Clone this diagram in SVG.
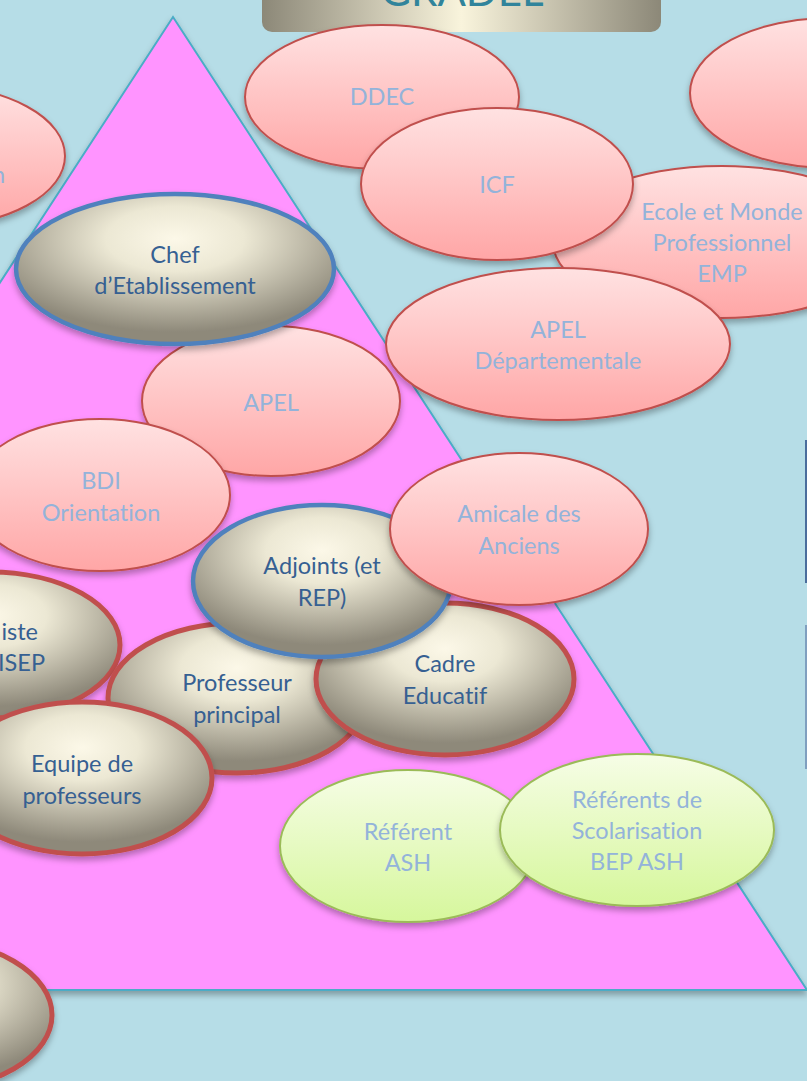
<svg xmlns="http://www.w3.org/2000/svg" width="807" height="1081" viewBox="0 0 807 1081">
<defs>
<linearGradient id="gPink" x1="0" y1="0" x2="0" y2="1"><stop offset="0" stop-color="#ffe2e2"/><stop offset="1" stop-color="#ffa6a6"/></linearGradient>
<linearGradient id="gGreen" x1="0" y1="0" x2="0" y2="1"><stop offset="0" stop-color="#f6fde6"/><stop offset="1" stop-color="#d6f79c"/></linearGradient>
<radialGradient id="gGray" cx="0.5" cy="0.3" r="0.62"><stop offset="0" stop-color="#fcf8e8"/><stop offset="0.35" stop-color="#ece8d4"/><stop offset="1" stop-color="#8e897a"/></radialGradient>
<linearGradient id="gTitle" x1="0" y1="0" x2="1" y2="0"><stop offset="0" stop-color="#8c8878"/><stop offset="0.5" stop-color="#f9f4dc"/><stop offset="1" stop-color="#8c8878"/></linearGradient>
<filter id="sh" x="-20%" y="-20%" width="140%" height="150%"><feDropShadow dx="0" dy="4" stdDeviation="3" flood-color="#000" flood-opacity="0.3"/></filter>
<style>
.pink{fill:url(#gPink);stroke:#c0504d;stroke-width:2;filter:url(#sh)}
.green{fill:url(#gGreen);stroke:#9bbb59;stroke-width:2;filter:url(#sh)}
.grayB{fill:url(#gGray);stroke:#4f81bd;stroke-width:4.5;filter:url(#sh)}
.grayR{fill:url(#gGray);stroke:#c0504d;stroke-width:5;filter:url(#sh)}
text{font-family:Lato,"Open Sans","Liberation Sans",sans-serif;font-size:23.5px;text-anchor:middle;font-variant-ligatures:none}
.lt{fill:#93b3da}
.dk{fill:#366092}
</style>
</defs>
<rect x="0" y="0" width="807" height="1081" fill="#b6dde7"/>
<g id="pyramid"><polygon points="173,17 807,990 -461,990" fill="#ff94ff" stroke="#4bacc6" stroke-width="2" filter="url(#sh)"/></g>
<g id="connectors"></g>
<g id="title"><rect x="262" y="-20" width="399" height="52" rx="10" fill="url(#gTitle)"/><text x="462" y="6" style="font-size:42px;fill:#31849b">GRADEL</text></g>
<g id="n-topright"><ellipse class="pink" cx="830" cy="93" rx="140" ry="75"/></g>
<g id="n-lefttop"><ellipse class="pink" cx="-65" cy="156" rx="130" ry="70"/><text class="lt" x="5" y="183" style="text-anchor:end">n</text></g>
<g id="n-ddec"><ellipse class="pink" cx="382" cy="97" rx="137" ry="72"/><text class="lt" x="382" y="105">DDEC</text></g>
<g id="n-emp"><ellipse class="pink" cx="722" cy="242" rx="169" ry="76"/><text class="lt" x="722" y="220">Ecole et Monde</text><text class="lt" x="722" y="251">Professionnel</text><text class="lt" x="722" y="282">EMP</text></g>
<g id="n-icf"><ellipse class="pink" cx="497" cy="184" rx="136" ry="76"/><text class="lt" x="497" y="193">ICF</text></g>
<g id="n-apeldep"><ellipse class="pink" cx="558" cy="344" rx="172" ry="76"/><text class="lt" x="558" y="338">APEL</text><text class="lt" x="558" y="369">Départementale</text></g>
<g id="n-apel"><ellipse class="pink" cx="271" cy="401" rx="129" ry="75"/><text class="lt" x="271" y="411">APEL</text></g>
<g id="n-chef"><ellipse class="grayB" cx="175" cy="269" rx="159" ry="75"/><text class="dk" x="175" y="263">Chef</text><text class="dk" x="175" y="294">d’Etablissement</text></g>
<g id="n-bdi"><ellipse class="pink" cx="100" cy="495" rx="130" ry="76"/><text class="lt" x="101" y="489">BDI</text><text class="lt" x="101" y="521">Orientation</text></g>
<g id="n-iste"><ellipse class="grayR" cx="-10" cy="645" rx="130" ry="73"/><text class="dk" x="38" y="640" style="text-anchor:end">iste</text><text class="dk" x="45" y="671" style="text-anchor:end">ISEP</text></g>
<g id="n-prof"><ellipse class="grayR" cx="237" cy="698" rx="129" ry="75"/><text class="dk" x="237" y="691">Professeur</text><text class="dk" x="237" y="723">principal</text></g>
<g id="n-cadre"><ellipse class="grayR" cx="445" cy="679" rx="129" ry="76"/><text class="dk" x="445" y="672">Cadre</text><text class="dk" x="445" y="704">Educatif</text></g>
<g id="n-adjoints"><ellipse class="grayB" cx="322" cy="581" rx="129" ry="76"/><text class="dk" x="322" y="574">Adjoints (et</text><text class="dk" x="322" y="606">REP)</text></g>
<g id="n-amicale"><ellipse class="pink" cx="519" cy="529" rx="129" ry="76"/><text class="lt" x="519" y="522">Amicale des</text><text class="lt" x="519" y="554">Anciens</text></g>
<g id="n-equipe"><ellipse class="grayR" cx="82" cy="778" rx="130" ry="76"/><text class="dk" x="82" y="772">Equipe de</text><text class="dk" x="82" y="804">professeurs</text></g>
<g id="n-bottomleft"><ellipse class="grayR" cx="-78" cy="1015" rx="130" ry="76"/></g>
<g id="n-refash"><ellipse class="green" cx="408" cy="846" rx="128" ry="76"/><text class="lt" x="408" y="840">Référent</text><text class="lt" x="408" y="871">ASH</text></g>
<g id="n-refscol"><ellipse class="green" cx="637" cy="830" rx="137" ry="76"/><text class="lt" x="637" y="808">Référents de</text><text class="lt" x="637" y="839">Scolarisation</text><text class="lt" x="637" y="870">BEP ASH</text></g>
<g id="edge-marks"><rect x="805" y="440" width="2" height="143" fill="#4a6d9c"/><rect x="805" y="625" width="2" height="144" fill="#7f9fbf"/></g>
</svg>
